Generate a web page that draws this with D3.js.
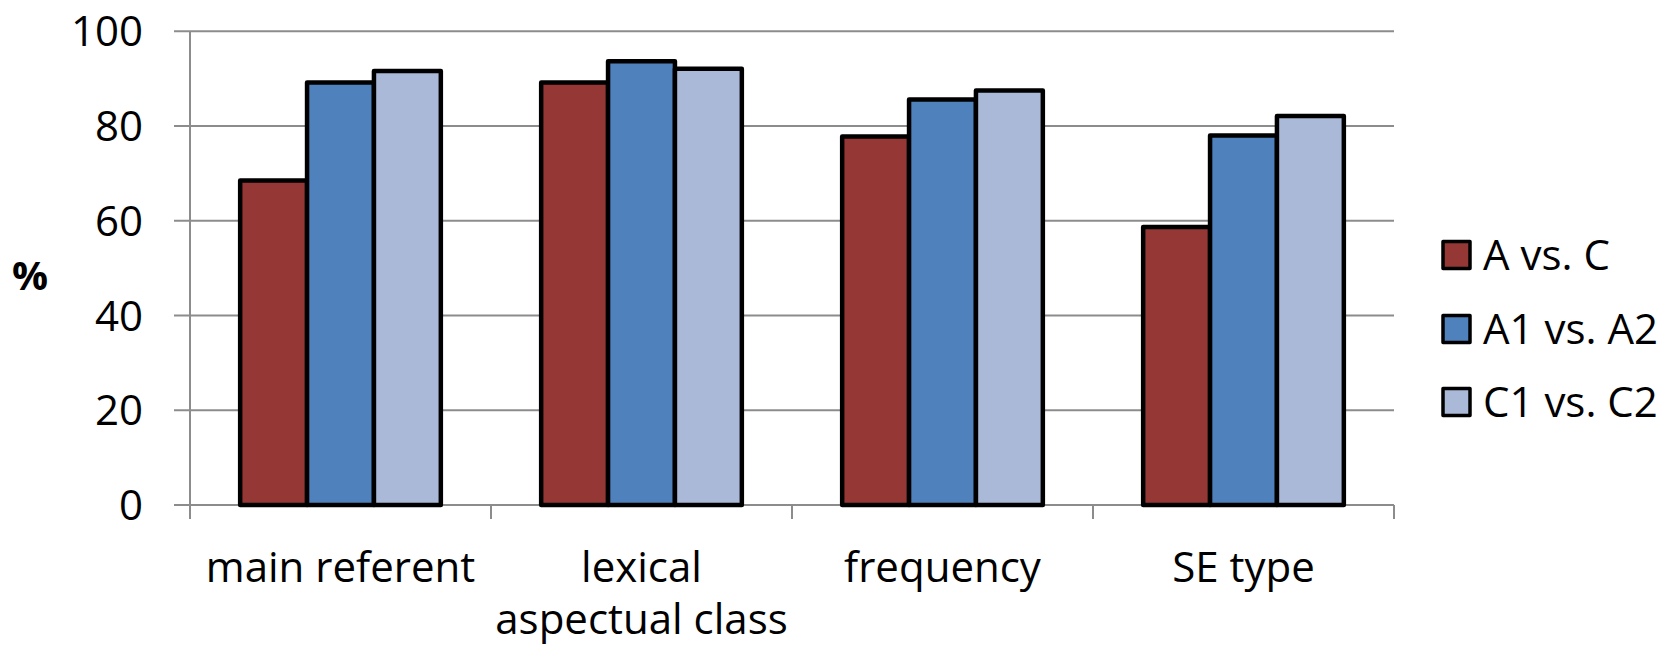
<!DOCTYPE html>
<html>
<head>
<meta charset="utf-8">
<script src="https://cdn.jsdelivr.net/npm/d3@7"></script>
<style>
  html, body { margin: 0; padding: 0; background: #fff; }
  svg { display: block; font-family: "Open Sans", sans-serif; }
</style>
</head>
<body>
<svg id="chart" width="1661" height="646"></svg>
<script>
// Category labels (multi-line where the label wraps)
const categories = ["main referent", "lexical aspectual class", "frequency", "SE type"];
const categoryLines = [["main referent"], ["lexical", "aspectual class"], ["frequency"], ["SE type"]];

// Series names and colours
const seriesNames = ["A vs. C", "A1 vs. A2", "C1 vs. C2"];
const seriesColors = ["#953735", "#4f81bd", "#aab9d7"];

// Percentages per series, one value per category
const valuesAvsC = [68.5, 89.2, 77.8, 58.7];
const valuesA1vsA2 = [89.2, 93.7, 85.6, 78.0];
const valuesC1vsC2 = [91.6, 92.1, 87.5, 82.1];

const yTicks = [0, 20, 40, 60, 80, 100];

const seriesValues = [valuesAvsC, valuesA1vsA2, valuesC1vsC2];

const svg = d3.select("#chart");

const plot = { left: 190, right: 1394, top: 31.3, bottom: 505 };

const x = d3.scaleBand()
  .domain(categories)
  .range([plot.left, plot.right])
  .paddingInner(1 / 3)
  .paddingOuter(1 / 6);

const xs = d3.scaleBand()
  .domain(seriesNames)
  .range([0, x.bandwidth()])
  .padding(0);

const y = d3.scaleLinear()
  .domain([0, 100])
  .range([plot.bottom, plot.top]);

const gridColor = "#8c8c8c";

// Horizontal gridlines with left tick stubs
svg.append("g")
  .selectAll("line")
  .data(yTicks)
  .join("line")
  .attr("x1", plot.left - 16)
  .attr("x2", plot.right)
  .attr("y1", d => y(d))
  .attr("y2", d => y(d))
  .attr("stroke", gridColor)
  .attr("stroke-width", 2);

// Vertical value axis line
svg.append("line")
  .attr("x1", plot.left).attr("x2", plot.left)
  .attr("y1", y(100)).attr("y2", y(0) + 14)
  .attr("stroke", gridColor)
  .attr("stroke-width", 2);

// Category separator ticks below the baseline
const boundaries = d3.range(categories.length + 1).map(i => plot.left + i * x.step());
svg.append("g")
  .selectAll("line")
  .data(boundaries)
  .join("line")
  .attr("x1", d => d).attr("x2", d => d)
  .attr("y1", y(0)).attr("y2", y(0) + 14)
  .attr("stroke", gridColor)
  .attr("stroke-width", 2);

// Y tick labels
svg.append("g")
  .selectAll("text")
  .data(yTicks)
  .join("text")
  .attr("x", 143)
  .attr("y", d => y(d))
  .attr("dy", "0.36em")
  .attr("text-anchor", "end")
  .attr("font-size", 42)
  .attr("fill", "#000")
  .text(d => d);

// Axis title
svg.append("text")
  .attr("x", 30)
  .attr("y", 290)
  .attr("text-anchor", "middle")
  .attr("font-size", 40)
  .attr("font-weight", "bold")
  .text("%");

// Bars
const groups = svg.append("g")
  .selectAll("g")
  .data(categories)
  .join("g")
  .attr("transform", c => `translate(${x(c)},0)`);

groups.selectAll("rect")
  .data((c, i) => seriesNames.map((s, j) => ({ series: s, value: seriesValues[j][i], color: seriesColors[j] })))
  .join("rect")
  .attr("x", d => xs(d.series))
  .attr("width", xs.bandwidth())
  .attr("y", d => y(d.value))
  .attr("height", d => y(0) - y(d.value))
  .attr("fill", d => d.color)
  .attr("stroke", "#000")
  .attr("stroke-width", 4.5)
  .attr("stroke-linejoin", "round");

// Category labels
const catLabels = svg.append("g")
  .selectAll("text")
  .data(categories)
  .join("text")
  .attr("text-anchor", "middle")
  .attr("font-size", 42)
  .attr("fill", "#000");

catLabels.selectAll("tspan")
  .data((c, i) => categoryLines[i].map((line, k) => ({ c, line, k })))
  .join("tspan")
  .attr("x", d => x(d.c) + x.bandwidth() / 2)
  .attr("y", d => 582 + d.k * 52)
  .text(d => d.line);

// Legend
const legendRowY = [255, 329, 402];
const legend = svg.append("g")
  .selectAll("g")
  .data(seriesNames)
  .join("g")
  .attr("transform", (d, i) => `translate(1443,${legendRowY[i]})`);

legend.append("rect")
  .attr("x", 0)
  .attr("y", -13.5)
  .attr("width", 27)
  .attr("height", 27)
  .attr("fill", (d, i) => seriesColors[i])
  .attr("stroke", "#000")
  .attr("stroke-width", 3.5)
  .attr("stroke-linejoin", "round");

legend.append("text")
  .attr("x", 40)
  .attr("y", 0)
  .attr("dy", "0.36em")
  .attr("font-size", 42)
  .attr("fill", "#000")
  .text(d => d);
</script>
</body>
</html>
